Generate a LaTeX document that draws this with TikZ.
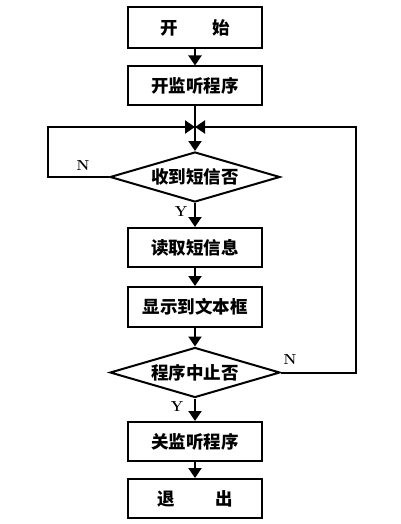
\documentclass[tikz,border=0pt]{standalone}
\usepackage{fontspec}
\newfontfamily\cjk{Noto Sans CJK SC}
\usetikzlibrary{shapes.geometric,arrows.meta}

\begin{document}
\begin{tikzpicture}[x=1pt,y=-1pt,line width=2pt,
    proc/.style={draw, minimum width=134pt, minimum height=39pt, inner sep=0pt,
      font=\cjk\bfseries\fontsize{17.5}{17.5}\selectfont},
    decide/.style={draw, diamond, aspect=3.4, minimum width=170pt, minimum height=50pt,
      inner sep=0pt, font=\cjk\bfseries\fontsize{17.5}{17.5}\selectfont},
    arr/.style={-{Triangle[length=10pt,width=13pt]}},
    lbl/.style={font=\bfseries\fontsize{14.5}{14.5}\selectfont}]
    \useasboundingbox[fill=white] (0,0) rectangle (400,524);

    % main column
    \node[proc, minimum height=41pt] (start) at (195,27.5) {开\hspace{2em}始};
    \node[proc] (listen) at (195,86) {开监听程序};
    \coordinate (join) at (195,127);
    \node[decide] (got_sms) at (195,177) {收到短信否};
    \node[proc] (read_sms) at (195,247.5) {读取短信息};
    \node[proc, minimum height=40pt] (show_sms) at (195,307) {显示到文本框};
    \node[decide] (stop_q) at (195,372.5) {程序中止否};
    \node[proc] (unlisten) at (195,441.5) {关监听程序};
    \node[proc] (quit) at (195,498.5) {退\hspace{2.3em}出};

    % loop corners
    \coordinate (left_top) at (48,127);
    \coordinate (right_top) at (356,127);

    \draw[arr] (start) -- (listen);
    \draw (listen) -- (join);
    \draw[arr] (join) -- (got_sms);
    \draw[arr] (got_sms) -- (read_sms);
    \draw[arr] (read_sms) -- (show_sms);
    \draw[arr] (show_sms) -- (stop_q);
    \draw[arr] (stop_q) -- (unlisten);
    \draw[arr] (unlisten) -- (quit);

    % feedback loops
    \draw[arr] (got_sms.west) -| (left_top) -- (join);
    \draw[arr] (stop_q.east) -| (right_top) -- (join);

    % branch labels
    \node[lbl] (n_one) at (83,166) {N};
    \node[lbl] (y_one) at (181,212) {Y};
    \node[lbl] (n_two) at (290,360) {N};
    \node[lbl] (y_two) at (177,407) {Y};
\end{tikzpicture}
\end{document}
